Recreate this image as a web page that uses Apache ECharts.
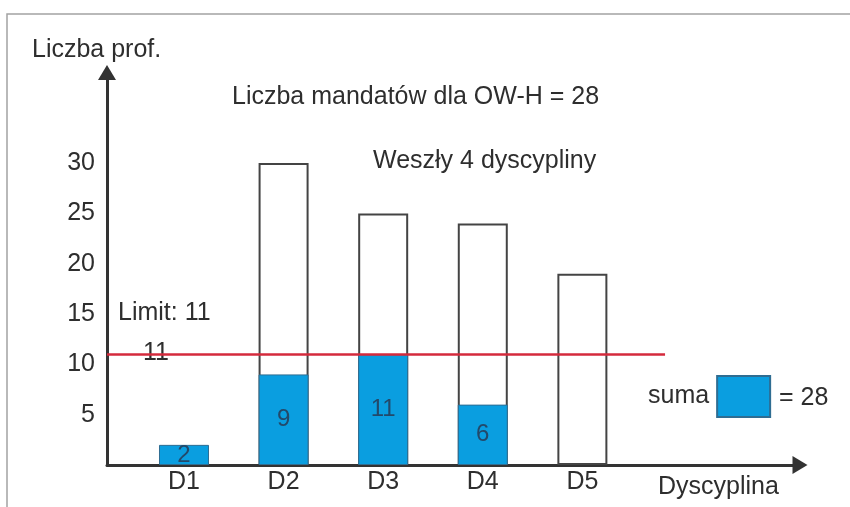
<!DOCTYPE html>
<html>
<head>
<meta charset="utf-8">
<script src="https://cdn.jsdelivr.net/npm/echarts@6/dist/echarts.min.js"></script>
<style>html,body{margin:0;padding:0;background:#fff}#c{width:850px;height:507px}</style>
</head>
<body>
<div id="c"></div>
<script>
// ---- data ----
const categories = ['D1', 'D2', 'D3', 'D4', 'D5'];
const totalProf = [null, 30, 25, 24, 19];     // outlined bars
const seats = [2, 9, 11, 6, null];             // blue bars (mandates)
const yTickLabels = [5, 10, 15, 20, 25, 30];
const limit = 11;
const totalSeats = 28;
const legendName = 'suma';

const FONT = 'Liberation Sans, Arial, sans-serif';
const TXT = '#2e2e2e';
const BLUE = '#0a9ee0';
const XMIN = 0.227, XMAX = 7.185;
const FS = 25;

const outerData = totalProf.map((v, i) => v == null ? null : [i + 1, v]).filter(Boolean);
const blueData = seats.map((v, i) => v == null ? null : [i + 1, v]).filter(Boolean);

const chart = echarts.init(document.getElementById('c'), null, {renderer: 'canvas'});

function txt(x, y, s) {
  return {
    type: 'text', x: x, y: y, silent: true,
    style: {text: s, fill: TXT, font: FS + 'px ' + FONT, verticalAlign: 'middle'}
  };
}

chart.setOption({
  animation: false,
  backgroundColor: '#fff',
  grid: {left: 107, right: 50, top: 72.5, bottom: 42, containLabel: false},
  xAxis: {
    type: 'value', min: XMIN, max: XMAX, splitNumber: 7,
    axisLine: {show: true, lineStyle: {color: '#333', width: 3}, symbol: ['none', 'triangle'], symbolSize: [18, 15]},
    axisTick: {show: false},
    splitLine: {show: false},
    axisLabel: {
      fontSize: FS, fontFamily: FONT, color: TXT, margin: 5,
      showMinLabel: false, showMaxLabel: false,
      formatter: function (v) {
        const i = Math.round(v);
        return (Math.abs(v - i) < 1e-6 && i >= 1 && i <= categories.length) ? categories[i - 1] : '';
      }
    }
  },
  yAxis: {
    type: 'value', min: 0, max: 39, interval: 5,
    axisLine: {show: true, lineStyle: {color: '#333', width: 3}, symbol: ['none', 'triangle'], symbolSize: [18, 15]},
    axisTick: {show: false},
    splitLine: {show: false},
    axisLabel: {
      fontSize: FS, fontFamily: FONT, color: TXT, margin: 12,
      formatter: function (v) { return yTickLabels.indexOf(v) >= 0 ? String(v) : ''; }
    }
  },
  legend: {
    data: [{name: legendName, icon: 'rect'}],
    left: 648, top: 375, itemWidth: 53, itemHeight: 41, align: 'right',
    selectedMode: false, padding: 0,
    textStyle: {fontSize: FS, fontFamily: FONT, color: TXT, padding: [0, 3, 0, 0]}
  },
  series: [
    {
      name: 'prof', type: 'bar', barWidth: 50, barGap: '-100%',
      data: outerData,
      itemStyle: {color: '#fff', borderColor: '#444', borderWidth: 2},
      z: 2
    },
    {
      name: legendName, type: 'bar', barWidth: 50, barGap: '-100%',
      data: blueData,
      itemStyle: {color: BLUE, borderColor: '#2f6d92', borderWidth: 1},
      label: {show: true, position: 'inside', fontSize: 24, fontFamily: FONT, color: '#23496a'},
      z: 3,
      markLine: {
        silent: true, symbol: 'none', animation: false,
        lineStyle: {color: '#d42a3c', width: 2.5, type: 'solid'},
        label: {show: false},
        data: [[{coord: [XMIN, limit]}, {coord: [5.83, limit]}]]
      }
    }
  ],
  graphic: [
    {type: 'rect', silent: true, shape: {x: 7, y: 14, width: 900, height: 600},
     style: {fill: 'none', stroke: '#a3a3a3', lineWidth: 1.5}, z: -1},
    txt(32, 50, 'Liczba prof.'),
    txt(232, 97, 'Liczba mandatów dla OW-H = ' + totalSeats),
    txt(373, 161, 'Weszły ' + seats.filter(v => v != null).length + ' dyscypliny'),
    txt(118, 313, 'Limit: ' + limit),
    txt(143, 353, String(limit)),
    txt(779, 398, '= ' + totalSeats),
    txt(658, 487, 'Dyscyplina')
  ]
});
</script>
</body>
</html>
